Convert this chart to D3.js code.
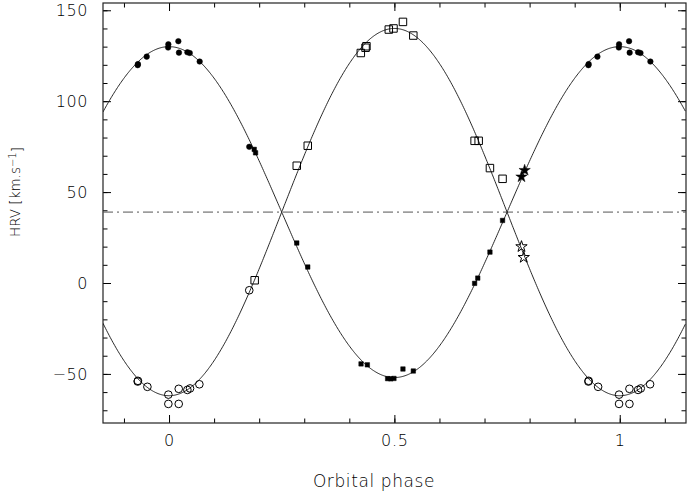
<!DOCTYPE html>
<html>
<head>
<meta charset="utf-8">
<script src="https://cdn.jsdelivr.net/npm/d3@7"></script>
<style>
  html, body { margin: 0; padding: 0; background: #fff; }
  svg text { font-family: "DejaVu Sans", sans-serif; font-weight: 300; fill: #000; }
</style>
</head>
<body>
<svg id="chart" width="689" height="491"></svg>
<script>
// ---------------- data ----------------
const majorX = [0, 0.5, 1];
const minorX = [-0.1, 0, 0.1, 0.2, 0.3, 0.4, 0.5, 0.6, 0.7, 0.8, 0.9, 1, 1.1];
const majorY = [-50, 0, 50, 100, 150];
const minorY = [-70, -60, -50, -40, -30, -20, -10, 0, 10, 20, 30, 40, 50, 60, 70, 80, 90, 100, 110, 120, 130, 140, 150];

// orbital fit parameters
const gamma = 39;   // systemic velocity
const K1 = 91;      // primary semi-amplitude
const K2 = 101;     // secondary semi-amplitude

// primary: filled circles
const fcPhase = [-0.0695, -0.0690, -0.0495, -0.0015, -0.0020, 0.0207, 0.0220, 0.0407, 0.0460, 0.0680, 0.178];
const fcRV    = [119.8, 120.4, 124.5, 131.3, 129.5, 133.0, 126.7, 126.9, 126.5, 121.8, 74.9];
// secondary: open circles
const ocPhase = [-0.0695, -0.0690, -0.0480, -0.0015, -0.0015, 0.0215, 0.0215, 0.0407, 0.0466, 0.0673, 0.178];
const ocRV    = [-54.2, -53.8, -57.1, -61.4, -66.5, -66.5, -58.2, -58.8, -58.0, -55.7, -4.0];
// primary: filled squares
const fsPhase = [0.189, 0.192, 0.2834, 0.3078, 0.426, 0.440, 0.485, 0.492, 0.499, 0.519, 0.542, 0.678, 0.685, 0.712, 0.740];
const fsRV    = [73.5, 71.6, 22.0, 8.8, -44.5, -45.0, -52.6, -52.7, -52.5, -47.3, -48.4, -0.2, 2.7, 17.0, 34.4];
// secondary: open squares
const osPhase = [0.190, 0.2834, 0.3078, 0.4255, 0.436, 0.438, 0.4876, 0.498, 0.519, 0.542, 0.678, 0.687, 0.712, 0.740];
const osRV    = [1.5, 64.5, 75.5, 126.5, 129.4, 130.2, 139.4, 140.0, 143.6, 136.1, 78.2, 78.2, 63.2, 57.3];
// primary: filled stars
const fstPhase = [0.782, 0.789];
const fstRV    = [58.4, 62.0];
// secondary: open stars
const ostPhase = [0.782, 0.787];
const ostRV    = [20.0, 14.1];

// ---------------- layout ----------------
const svg = d3.select("#chart");
const L = 103, R = 686, T = 3, B = 423;
const x = d3.scaleLinear().domain([-0.1465, 1.147]).range([L, R]);
const y = d3.scaleLinear().domain([-77, 154]).range([B, T]);
const xd = x.domain();

// ---------------- ticks ----------------
function axisG(axis, tx, ty) {
  const g = svg.append("g").attr("transform", `translate(${tx},${ty})`).call(axis);
  g.select(".domain").remove();
  g.selectAll(".tick line").attr("stroke", "#000").attr("stroke-width", 1);
  return g;
}
const MJ = 8, MN = 4.5;
axisG(d3.axisBottom(x).tickValues(minorX).tickSize(-MN).tickFormat(""), 0, B);
axisG(d3.axisTop(x).tickValues(minorX).tickSize(-MN).tickFormat(""), 0, T);
axisG(d3.axisLeft(y).tickValues(minorY).tickSize(-MN).tickFormat(""), L, 0);
axisG(d3.axisRight(y).tickValues(minorY).tickSize(-MN).tickFormat(""), R, 0);
const bx = axisG(d3.axisBottom(x).tickValues(majorX).tickSize(-MJ).tickPadding(12).tickFormat(d3.format("")), 0, B);
axisG(d3.axisTop(x).tickValues(majorX).tickSize(-MJ).tickFormat(""), 0, T);
const ly = axisG(d3.axisLeft(y).tickValues(majorY).tickSize(-MJ).tickPadding(15).tickFormat(d3.format("")), L, 0);
axisG(d3.axisRight(y).tickValues(majorY).tickSize(-MJ).tickFormat(""), R, 0);
bx.selectAll(".tick text").attr("font-size", 16).attr("font-family", "DejaVu Sans")
  .attr("dy", "0.71em").attr("letter-spacing", 0.8).attr("fill", "#000");
ly.selectAll(".tick text").attr("font-size", 16).attr("font-family", "DejaVu Sans")
  .attr("letter-spacing", 0.6).attr("fill", "#000");

// frame
svg.append("rect").attr("x", L).attr("y", T).attr("width", R - L).attr("height", B - T)
  .attr("fill", "none").attr("stroke", "#222").attr("stroke-width", 1.2);

// ---------------- systemic line ----------------
svg.append("line").attr("x1", L).attr("x2", R).attr("y1", y(gamma)).attr("y2", y(gamma))
  .attr("stroke", "#555").attr("stroke-width", 1).attr("stroke-dasharray", "10,4,2,4");

// ---------------- fitted curves ----------------
svg.append("clipPath").attr("id", "clip").append("rect")
  .attr("x", L).attr("y", T).attr("width", R - L).attr("height", B - T);
const phases = d3.range(xd[0], xd[1] + 0.0005, 0.002);
const line = d3.line().x(d => x(d[0])).y(d => y(d[1])).curve(d3.curveLinear);
const c1 = phases.map(p => [p, gamma + K1 * Math.cos(2 * Math.PI * p)]);
const c2 = phases.map(p => [p, gamma - K2 * Math.cos(2 * Math.PI * p)]);
[c1, c2].forEach(c => svg.append("path").attr("d", line(c)).attr("fill", "none")
  .attr("stroke", "#111").attr("stroke-width", 0.9).attr("clip-path", "url(#clip)"));

// ---------------- points ----------------
function expand(ph, rv) {
  const out = [];
  ph.forEach((p, i) => {
    [-1, 0, 1].forEach(s => {
      const q = p + s;
      if (q >= xd[0] && q <= xd[1]) out.push([q, rv[i]]);
    });
  });
  return out;
}
const gP = svg.append("g");
function plot(ph, rv, type, size, filled) {
  const sym = d3.symbol().type(type).size(size);
  gP.selectAll(null).data(expand(ph, rv)).enter().append("path")
    .attr("d", sym)
    .attr("transform", d => `translate(${x(d[0])},${y(d[1])})`)
    .attr("fill", filled ? "#000" : "#fff")
    .attr("fill-opacity", filled ? 1 : 0)
    .attr("stroke", "#000").attr("stroke-width", filled ? 0.5 : 1);
}
plot(ocPhase, ocRV, d3.symbolCircle, 46, false);
plot(osPhase, osRV, d3.symbolSquare, 56, false);
plot(fcPhase, fcRV, d3.symbolCircle, 24, true);
plot(fsPhase, fsRV, d3.symbolSquare, 20, true);
plot(ostPhase, ostRV, d3.symbolStar, 40, false);
plot(fstPhase, fstRV, d3.symbolStar, 40, true);

// ---------------- axis titles ----------------
svg.append("text").attr("x", 374).attr("y", 487).attr("text-anchor", "middle")
  .attr("font-size", 17).attr("letter-spacing", 0.6).attr("fill", "#000").text("Orbital phase");
const yt = svg.append("text").attr("transform", "translate(20,192) rotate(-90)")
  .attr("text-anchor", "middle").attr("font-size", 13.5).attr("fill", "#000");
yt.append("tspan").text("HRV [km.s");
yt.append("tspan").attr("dy", "-0.45em").attr("font-size", 10).text("\u22121");
yt.append("tspan").attr("dy", "0.45em").text("]");
</script>
</body>
</html>
